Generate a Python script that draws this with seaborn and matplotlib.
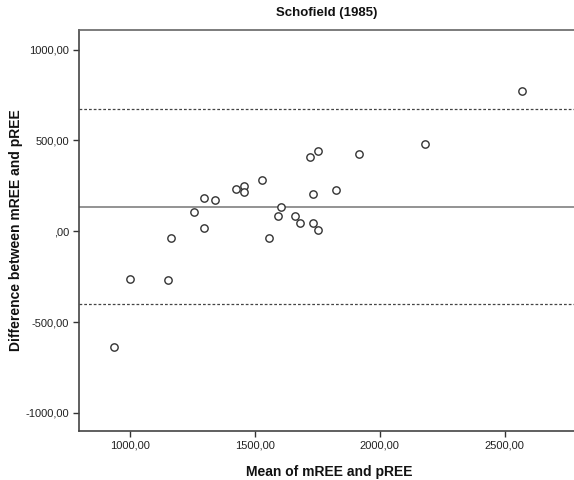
import matplotlib
matplotlib.use("Agg")
import matplotlib.pyplot as plt
import seaborn as sns
import pandas as pd
from matplotlib.ticker import FixedLocator, FixedFormatter

# Data
mean_vals = [938, 1003, 1153, 1167, 1256, 1296, 1299, 1343, 1425, 1459, 1456,
             1531, 1557, 1595, 1605, 1662, 1682, 1732, 1752, 1733, 1826, 1720,
             1755, 1919, 2182, 2569]
diff_vals = [-636, -263, -268, -35, 105, 16.5, 185, 171, 233, 248, 215,
             281, -39, 83, 135.5, 86, 44, 47, 5.5, 204, 226, 408,
             444, 424, 481, 773]
bias = 135.5
upper_loa = 672
lower_loa = -401

x_ticks = [1000, 1500, 2000, 2500]
x_tick_labels = ["1000,00", "1500,00", "2000,00", "2500,00"]
y_ticks = [-1000, -500, 0, 500, 1000]
y_tick_labels = ["-1000,00", "-500,00", ",00", "500,00", "1000,00"]

title = "Schofield (1985)"
xlabel = "Mean of mREE and pREE"
ylabel = "Difference between mREE and pREE"

df = pd.DataFrame({"mean": mean_vals, "diff": diff_vals})

sns.set_style("white")
plt.rcParams["font.family"] = ["Liberation Sans", "DejaVu Sans"]

fig = plt.figure(figsize=(5.74, 4.8), dpi=100)
ax = fig.add_axes([79/574, 1 - 431/480, 1 - 79/574 + 0.01, (431 - 30)/480])

sns.scatterplot(data=df, x="mean", y="diff", ax=ax, s=28, marker="o",
                facecolor="white", edgecolor="#333333", linewidth=1.0, zorder=3)

ax.axhline(bias, color="#808080", lw=1.2, zorder=2)
ax.axhline(upper_loa, color="#444444", lw=0.9, ls=(0, (2.2, 1.6)), zorder=2)
ax.axhline(lower_loa, color="#444444", lw=0.9, ls=(0, (2.2, 1.6)), zorder=2)

ax.set_xlim(797, 2800)
ax.set_ylim(-1100, 1108)

ax.xaxis.set_major_locator(FixedLocator(x_ticks))
ax.xaxis.set_major_formatter(FixedFormatter(x_tick_labels))
ax.yaxis.set_major_locator(FixedLocator(y_ticks))
ax.yaxis.set_major_formatter(FixedFormatter(y_tick_labels))

ax.tick_params(axis="both", which="major", direction="out", length=4, width=1,
               color="#333333", labelsize=8, labelcolor="#222222", pad=3,
               bottom=True, left=True)

ax.spines["right"].set_visible(False)
ax.spines["top"].set_color("#666666")
ax.spines["top"].set_linewidth(1.2)
for side in ["left", "bottom"]:
    ax.spines[side].set_color("#444444")
    ax.spines[side].set_linewidth(1.2)

ax.set_xlabel(xlabel, fontsize=10, fontweight="bold", color="#111111", labelpad=10)
ax.set_ylabel(ylabel, fontsize=10, fontweight="bold", color="#111111", labelpad=2)
fig.text((79 + 574) / 2 / 574, 1 - 13/480, title, ha="center", va="center",
         fontsize=9.5, fontweight="bold", color="#111111")

fig.savefig("out.png", dpi=100)
